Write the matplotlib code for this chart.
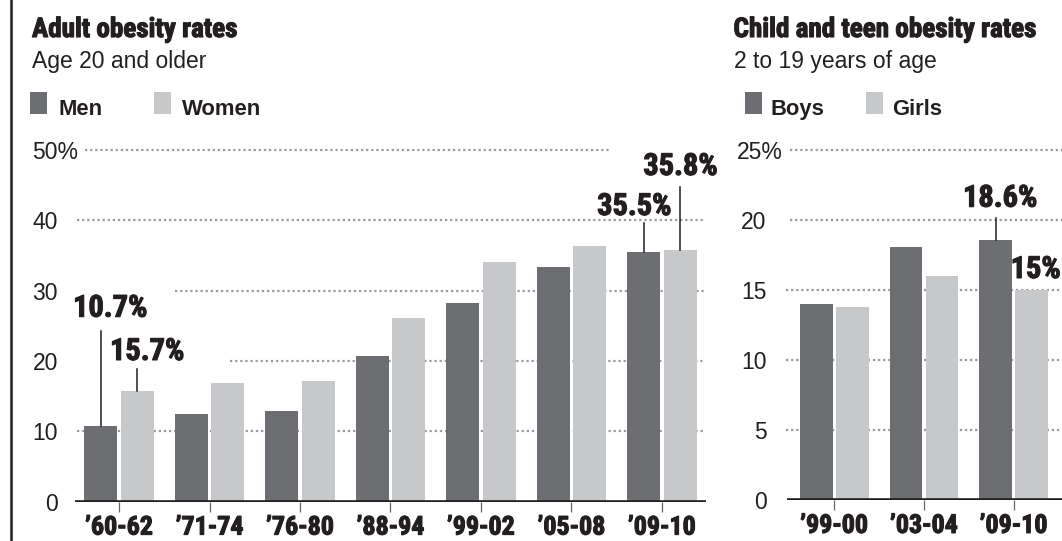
import os
import glob
import matplotlib
matplotlib.use("Agg")
import matplotlib.pyplot as plt
from matplotlib import font_manager
from matplotlib import patheffects
from matplotlib.lines import Line2D
from matplotlib.patches import Rectangle

# ---------------- data ----------------
adult_periods = ["\u201960-62", "\u201971-74", "\u201976-80", "\u201988-94", "\u201999-02", "\u201905-08", "\u201909-10"]
men = [10.7, 12.4, 12.9, 20.7, 28.3, 33.4, 35.5]
women = [15.7, 16.9, 17.2, 26.1, 34.1, 36.3, 35.8]
adult_yticks = [0, 10, 20, 30, 40, 50]

child_periods = ["\u201999-00", "\u201903-04", "\u201909-10"]
boys = [14.0, 18.1, 18.6]
girls = [13.8, 16.0, 15.0]
child_yticks = [0, 5, 10, 15, 20, 25]

# ---------------- style ----------------
W, H = 1062, 541
DARK = "#6d6e71"
LIGHT = "#c7c8ca"
INK = "#231f20"
GRID = "#9a9a9a"


def find_condensed_bold():
    files = set(f.fname for f in font_manager.fontManager.ttflist)
    for d in ["/usr/share/fonts", "/usr/local/share/fonts", os.path.expanduser("~/.fonts")]:
        files.update(glob.glob(os.path.join(d, "**", "*.[ot]tf"), recursive=True))
    files = sorted(files)
    prefs = ["liberationsansnarrow-bold.", "robotocondensed-bold.", "notosans-condensedbold.",
             "opensans_condensed-bold.", "opensans-condensedbold.", "dejavusanscondensed-bold."]
    for p in prefs:
        for fn in files:
            if os.path.basename(fn).lower().startswith(p):
                return fn
    for fn in files:
        n = os.path.basename(fn).lower()
        if ("condensed" in n or "narrow" in n) and "bold" in n and not any(
                k in n for k in ["italic", "oblique", "semi"]):
            return fn
    return None


_cb = find_condensed_bold()
if _cb:
    BOLDC = font_manager.FontProperties(fname=_cb)
else:
    BOLDC = font_manager.FontProperties(family="Liberation Sans", weight="bold")
REG = font_manager.FontProperties(family="Liberation Sans")
BOLD = font_manager.FontProperties(family="Liberation Sans", weight="bold")
HEAVY = [patheffects.withStroke(linewidth=0.8, foreground=INK)]


def fp(base, size):
    p = base.copy()
    p.set_size(size)
    return p


fig = plt.figure(figsize=(W / 100, H / 100), dpi=100)
fig.patch.set_facecolor("white")
renderer = fig.canvas.get_renderer()


def fit_size(base, text, target_px, start=20.0):
    t = fig.text(0, 0, text, fontproperties=fp(base, start))
    w = t.get_window_extent(renderer).width
    t.remove()
    return start * target_px / w


TITLE_SIZE = fit_size(BOLDC, "Adult obesity rates", 201) * 1.02
CALL_SIZE = fit_size(BOLDC, "18.6%", 69) * 1.08
XT_SIZE = fit_size(BOLDC, "\u201960-62", 63) * 1.08
REG_SIZE = 16.5
LEG_SIZE = 15.8


def fx(px):
    return px / W


def fy(py):
    return 1 - py / H


# left border rule
fig.add_artist(Line2D([fx(11.3), fx(11.3)], [0, 1], transform=fig.transFigure, color=INK, lw=1.8))

# ---------------- axes ----------------
axL = fig.add_axes([fx(74.7), fy(501.7), (706.3 - 74.7) / W, (501.7 - 150) / H])
axR = fig.add_axes([fx(787.3), fy(500), (1062.3 - 787.3) / W, (500 - 150) / H])


def setup(ax, cats, a, b, width, off, ylim, xlim):
    x = list(range(len(cats)))
    ax.bar([i - off for i in x], a, width=width, color=DARK, zorder=2)
    ax.bar([i + off for i in x], b, width=width, color=LIGHT, zorder=2)
    ax.set_xlim(*xlim)
    ax.set_ylim(*ylim)
    for s in ax.spines.values():
        s.set_visible(False)
    ax.axhline(0, color=INK, lw=2.6, zorder=4, solid_capstyle="butt")
    ax.set_yticks([])
    ax.set_xticks(x)
    labels = ax.set_xticklabels(cats, fontproperties=fp(BOLDC, XT_SIZE), color=INK)
    for lb in labels:
        lb.set_path_effects(HEAVY)
    ax.tick_params(axis="x", length=7, width=0.9, color="#666666", pad=3)
    ax.patch.set_alpha(0)
    return x


setup(axL, adult_periods, men, women, 0.365, 0.204, (0, 50), (-0.49, 6.49))
setup(axR, child_periods, boys, girls, 0.364, 0.2, (0, 25), (-0.524, 2.542))

dot = dict(color=GRID, lw=1.6, linestyle=(0, (1.0, 1.3)), zorder=1)

# gridline extents (data x)
grid_left = {50: (-0.376, 5.425), 40: (-0.464, 6.464), 30: (0.619, 6.464), 20: (1.227, 6.464), 10: (-0.464, 6.464)}
for v, (a, b) in grid_left.items():
    axL.plot([a, b], [v, v], clip_on=False, **dot)
grid_right = {25: (-0.494, 2.55), 20: (-0.494, 2.55), 15: (-0.538, 2.55), 10: (-0.538, 2.55), 5: (-0.538, 2.55)}
for v, (a, b) in grid_right.items():
    axR.plot([a, b], [v, v], clip_on=False, **dot)

# y tick labels
for v in adult_yticks:
    if v == adult_yticks[-1]:
        axL.text(-0.961, v, f"{v}%", ha="left", va="center_baseline", fontproperties=fp(REG, REG_SIZE), color=INK)
    else:
        axL.text(-0.674, v, f"{v}", ha="right", va="center_baseline", fontproperties=fp(REG, REG_SIZE), color=INK)
for v in child_yticks:
    if v == child_yticks[-1]:
        axR.text(-1.088, v, f"{v}%", ha="left", va="center_baseline", fontproperties=fp(REG, REG_SIZE), color=INK, clip_on=False)
    else:
        axR.text(-0.754, v, f"{v}", ha="right", va="center_baseline", fontproperties=fp(REG, REG_SIZE), color=INK, clip_on=False)

# ---------------- callouts ----------------
lead = dict(color=INK, lw=1.1, zorder=5, clip_on=False)


def callout(ax, xbar, val, top, tx, ty, text, ha):
    if top is not None:
        ax.plot([xbar, xbar], [val, top], **lead)
    return ax.text(tx, ty, text, ha=ha, va="baseline", fontproperties=fp(BOLDC, CALL_SIZE), color=INK,
                   path_effects=HEAVY)


callout(axL, 0 - 0.204, men[0], 24.2, -0.508, 26.3, f"{men[0]}%", "left")
callout(axL, 0 + 0.204, women[0], 18.87, -0.0995, 20.15, f"{women[0]}%", "left")
callout(axL, 6 - 0.204, men[6], 39.62, 6.107, 40.76, f"{men[6]}%", "right")
callout(axL, 6 + 0.204, women[6], 44.78, 6.619, 46.45, f"{women[6]}%", "right")
callout(axR, 2 - 0.2, boys[2], 20.14, 1.435, 20.95, f"{boys[2]}%", "left")
t15 = callout(axR, 2 + 0.2, girls[2], None, 2.015, 15.86, f"{girls[2]:g}%", "left")
# keep the last callout inside the canvas
bb = t15.get_window_extent(renderer)
if bb.x1 > W - 1:
    inv = axR.transData.inverted()
    x_new = inv.transform((bb.x0 - (bb.x1 - (W - 1)), 0))[0]
    t15.set_x(x_new)


# ---------------- titles & legends ----------------
def ftext(px, py, s, prop, **kw):
    fig.text(fx(px), fy(py), s, va="baseline", ha="left", color=INK, fontproperties=prop, **kw)


ftext(32, 37, "Adult obesity rates", fp(BOLDC, TITLE_SIZE), path_effects=HEAVY)
ftext(32, 68.5, "Age 20 and older", fp(REG, REG_SIZE))
ftext(733.5, 37, "Child and teen obesity rates", fp(BOLDC, TITLE_SIZE), path_effects=HEAVY)
ftext(733.5, 68.5, "2 to 19 years of age", fp(REG, REG_SIZE))


def legend_item(px, label, color, text_px):
    fig.add_artist(Rectangle((fx(px), fy(113.5)), 16.5 / W, 21 / H, transform=fig.transFigure,
                             facecolor=color, edgecolor="none"))
    ftext(text_px, 115, label, fp(BOLD, LEG_SIZE))


legend_item(30.3, "Men", DARK, 58)
legend_item(154, "Women", LIGHT, 182)
legend_item(745.3, "Boys", DARK, 770.6)
legend_item(866, "Girls", LIGHT, 891.8)

fig.savefig("out.png", dpi=100, facecolor="white")
